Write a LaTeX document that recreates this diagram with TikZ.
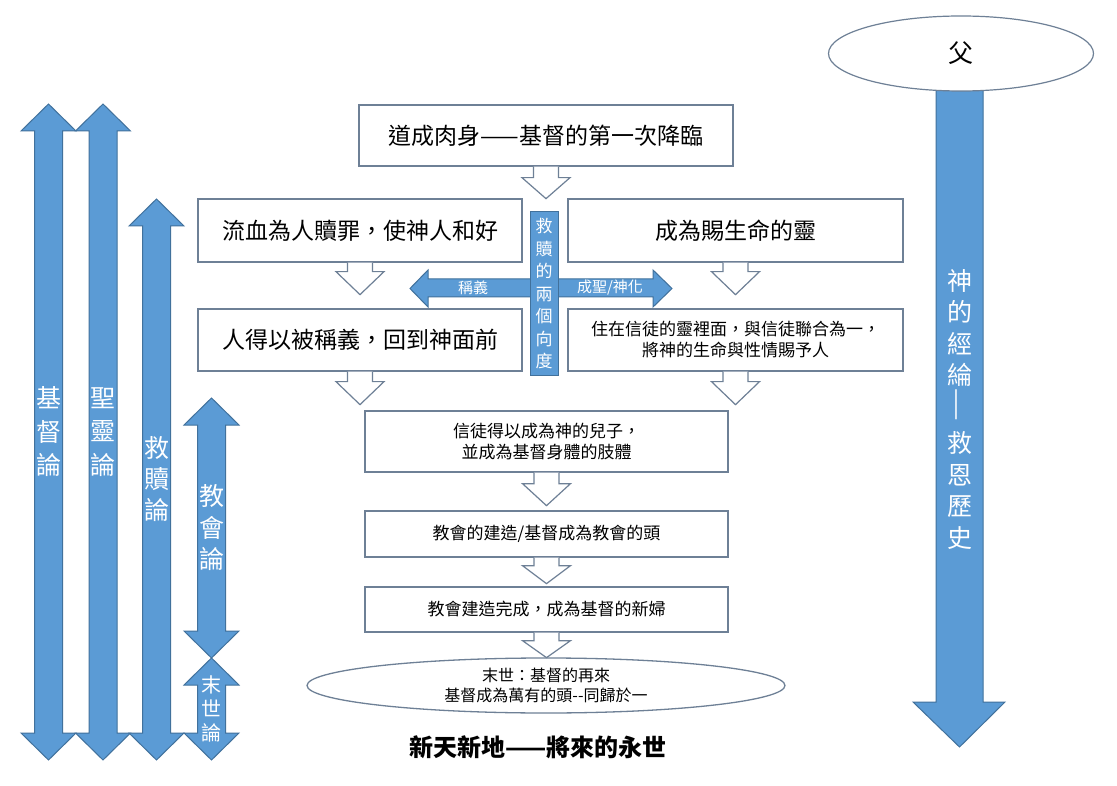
\documentclass[tikz,border=0pt]{standalone}
\usepackage{fontspec}
\setmainfont{Noto Sans CJK TC}
\usetikzlibrary{shapes.geometric, calc}

\definecolor{arrowblue}{RGB}{91,155,213}
\definecolor{arrowedge}{RGB}{65,113,156}
\definecolor{boxedge}{RGB}{110,128,150}

\tikzset{
  stage/.style={draw=boxedge, line width=1.3pt, fill=white, align=center, inner sep=0pt},
  bluearrow/.style={fill=arrowblue, draw=arrowedge, line width=1pt},
  hollow/.style={draw=boxedge, line width=1.2pt, fill=white},
  vtext/.style={text=white, align=center, inner sep=0pt},
}

% double headed block arrow: centre x, top tip, bottom tip
\newcommand{\dblarrow}[3]{%
  \draw[bluearrow] (#1,#2) -- (#1+27.5,#2+27) -- (#1+14,#2+27) -- (#1+14,#3-27)
    -- (#1+27.5,#3-27) -- (#1,#3) -- (#1-27.5,#3-27) -- (#1-14,#3-27)
    -- (#1-14,#2+27) -- (#1-27.5,#2+27) -- cycle;}

% hollow arrow under a box: node, shaft length, head length
\newcommand{\flowarrow}[3]{%
  \draw[hollow] let \p1=(#1.south) in
    (\x1-12.5pt,\y1) -- (\x1-12.5pt,\y1-#2pt) -- (\x1-24pt,\y1-#2pt)
    -- (\x1,\y1-#2pt-#3pt) -- (\x1+24pt,\y1-#2pt) -- (\x1+12.5pt,\y1-#2pt)
    -- (\x1+12.5pt,\y1);}

\begin{document}
\begin{tikzpicture}[x=1pt, y=-1pt]
\useasboundingbox (0,0) rectangle (1117,786);
\fill[white] (0,0) rectangle (1117,786);

%% the doctrines on the left
\dblarrow{48.5}{104}{760}
\dblarrow{103}{104}{760}
\dblarrow{156.5}{199}{760}
\dblarrow{211.5}{398}{658}
\dblarrow{211.5}{658}{760}

\node[vtext, font=\fontsize{25}{33.5}\selectfont] (christology) at (48.5,432) {基\\督\\論};
\node[vtext, font=\fontsize{25}{33.5}\selectfont] (pneumatology) at (103,432) {聖\\靈\\論};
\node[vtext, font=\fontsize{25}{31}\selectfont] (soteriology) at (156.5,479) {救\\贖\\論};
\node[vtext, font=\fontsize{25}{31.5}\selectfont] (ecclesiology) at (211.5,528) {教\\會\\論};
\node[vtext, font=\fontsize{20}{24}\selectfont] (eschatology) at (211.5,709) {末\\世\\論};

%% economy of God on the right
\draw[bluearrow] (936,80) -- (936,702) -- (913,702) -- (959.5,747) -- (1005,702)
  -- (983,702) -- (983,80) -- cycle;
\node[ellipse, draw=boxedge, line width=1.2pt, fill=white, minimum width=265pt,
  minimum height=75pt, inner sep=0pt, font=\fontsize{25}{30}\selectfont] (father) at (961,53.5) {父};
\node[vtext, font=\fontsize{25}{31.5}\selectfont] (economy) at (959.5,409)
  {神\\的\\經\\綸\\\rotatebox{90}{\scalebox{1.5}[1]{—}}\\救\\恩\\歷\\史};

%% flow in the middle
\node[stage, minimum width=374pt, minimum height=61pt, font=\fontsize{23}{27}\selectfont]
  (incarnation) at (546,135.5) {道成肉身——基督的第一次降臨};
\node[stage, minimum width=324pt, minimum height=63pt, font=\fontsize{23}{27}\selectfont]
  (blood) at (360,230.5) {流血為人贖罪，使神人和好};
\node[stage, minimum width=335pt, minimum height=63pt, font=\fontsize{23}{27}\selectfont]
  (spirit) at (735.5,230.5) {成為賜生命的靈};
\node[stage, minimum width=324pt, minimum height=62pt, font=\fontsize{23}{27}\selectfont]
  (justified) at (360,340) {人得以被稱義，回到神面前};
\node[stage, minimum width=335pt, minimum height=62pt, font=\fontsize{17}{21}\selectfont]
  (indwell) at (735.5,340) {住在信徒的靈裡面，與信徒聯合為一，\\將神的生命與性情賜予人};
\node[stage, minimum width=363pt, minimum height=61pt, font=\fontsize{17}{21}\selectfont]
  (sons) at (546.5,441.5) {信徒得以成為神的兒子，\\並成為基督身體的肢體};
\node[stage, minimum width=363pt, minimum height=46pt, font=\fontsize{17}{21}\selectfont]
  (building) at (546.5,534) {教會的建造/基督成為教會的頭};
\node[stage, minimum width=363pt, minimum height=45pt, font=\fontsize{17}{21}\selectfont]
  (bride) at (546.5,609.5) {教會建造完成，成為基督的新婦};
\node[stage, ellipse, minimum width=478pt, minimum height=55pt, font=\fontsize{16}{20}\selectfont]
  (return) at (546,685.5) {末世：基督的再來\\基督成為萬有的頭-{}-同歸於一};
\node[font=\fontsize{24}{28}\selectfont\bfseries, inner sep=0pt] (newworld) at (538,747)
  {新天新地——將來的永世};

\flowarrow{incarnation}{11}{21}
\flowarrow{blood}{9}{23}
\flowarrow{spirit}{9}{23}
\flowarrow{justified}{10}{23}
\flowarrow{indwell}{10}{23}
\flowarrow{sons}{11}{22}
\flowarrow{building}{8}{18}
\flowarrow{bride}{8}{17}

%% the two directions of redemption
\draw[bluearrow] (544,279) -- (428,279) -- (428,270) -- (410,288.5) -- (428,307)
  -- (428,297) -- (544,297);
\draw[bluearrow] (544,279) -- (653,279) -- (653,270) -- (672,288.5) -- (653,307)
  -- (653,297) -- (544,297);
\node[bluearrow, minimum width=28pt, minimum height=164pt, inner sep=0pt, text=white,
  align=center, font=\fontsize{17}{22.5}\selectfont] (twodirs) at (544,294)
  {救\\贖\\的\\兩\\個\\向\\度};
\node[vtext, font=\fontsize{15}{18}\selectfont] (justify) at (473,288) {稱義};
\node[vtext, font=\fontsize{15}{18}\selectfont] (sanctify) at (610,288) {成聖/神化};

\end{tikzpicture}
\end{document}
